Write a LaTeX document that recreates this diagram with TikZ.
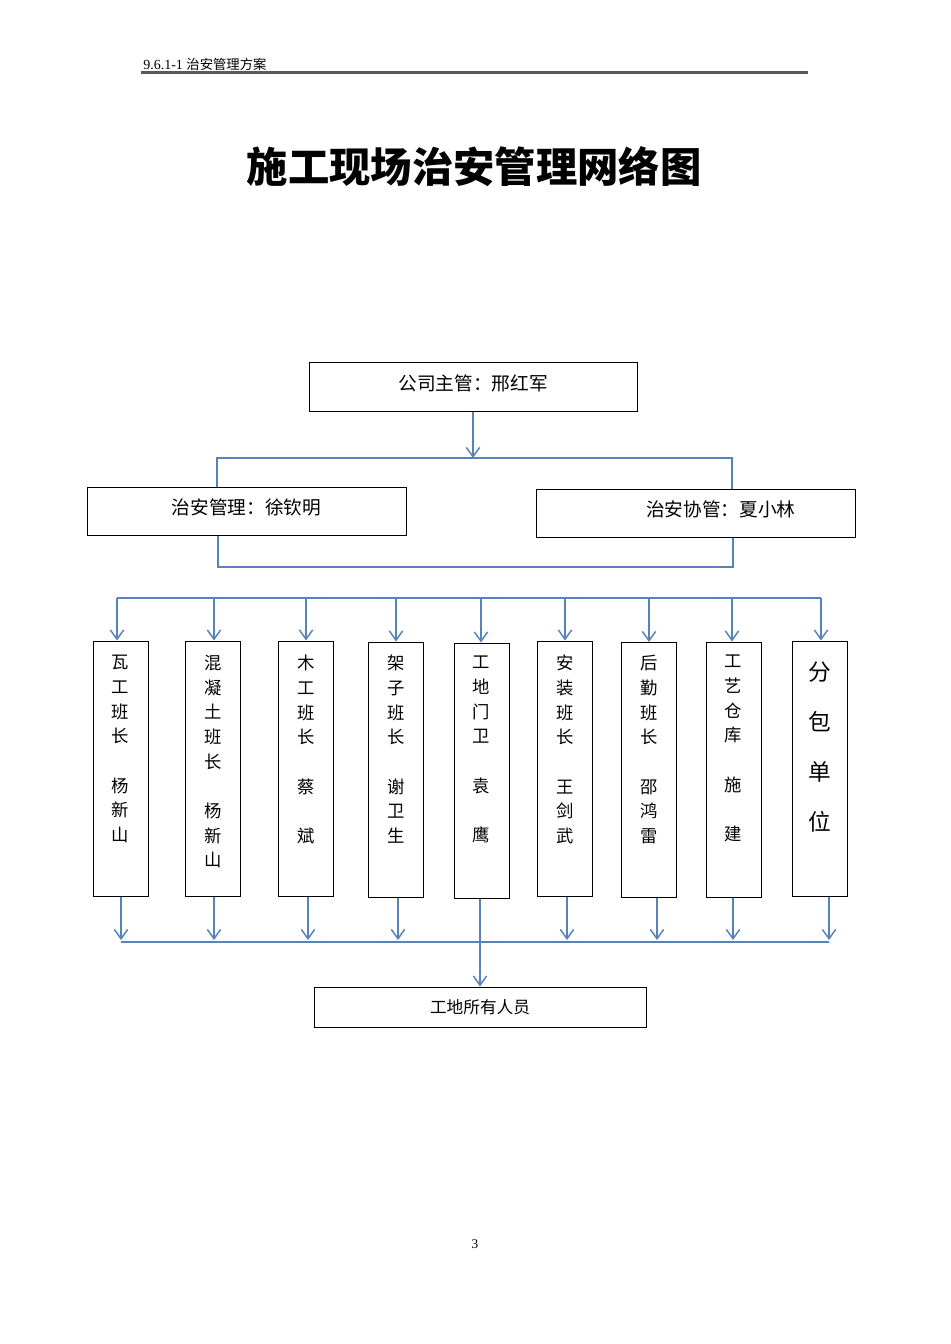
\documentclass[tikz,border=0pt]{standalone}
\usepackage{fontspec}
\setmainfont{Liberation Serif}
\newfontfamily\cjk{Noto Sans CJK SC}
\usetikzlibrary{arrows.meta,calc}
\definecolor{lineblue}{RGB}{88,130,186}
\begin{document}
\begin{tikzpicture}[x=0.75pt,y=-0.75pt,
  ln/.style={draw=lineblue,line width=1.1pt},
  arr/.style={ln,-{Straight Barb[length=7pt,width=10pt,line width=1.1pt]}},
  box/.style={draw=black,line width=0.75pt,inner sep=0pt},
  colbox/.style={box,minimum width=41.25pt,minimum height=191.25pt},
  coltxt/.style={anchor=north,inner sep=0pt,align=center,font=\cjk\fontsize{13}{18.5}\selectfont},
  bigtxt/.style={anchor=north,inner sep=0pt,align=center,font=\cjk\fontsize{17}{37.3}\selectfont},
]
\useasboundingbox (0,0) rectangle (950,1344);
\fill[white] (0,0) rectangle (950,1344);
% header
\node[anchor=base west,inner sep=0pt,font=\fontsize{10.5}{11}\selectfont] (hd) at (143,70) {9.6.1-1 {\cjk\fontsize{10}{11}\selectfont 治安管理方案}};
\draw[draw=black!65,line width=1.6pt] (141,72.5) -- (808,72.5);
% title
\node[inner sep=0pt,font=\cjk\bfseries\fontsize{31}{31}\selectfont] (title) at (474,167) {施工现场治安管理网络图};
% top boxes
\node[box,minimum width=246pt,minimum height=36.75pt,font=\cjk\fontsize{14}{14}\selectfont] (T) at (473,386.5) {\raisebox{6.5pt}{公司主管：邢红军}};
\node[box,minimum width=239.25pt,minimum height=36pt,font=\cjk\fontsize{14}{14}\selectfont] (L) at (246.5,511) {\raisebox{6.5pt}{治安管理：徐钦明}};
\node[box,minimum width=239.25pt,minimum height=36pt,font=\cjk\fontsize{14}{14}\selectfont] (R) at (695.5,513) {\raisebox{6.5pt}{\hspace*{38pt}治安协管：夏小林}};
% connectors top
\coordinate (j0) at (473,458);
\coordinate (a1) at (217,458);
\coordinate (a2) at (732,458);
\draw[arr] (T.south) -- (j0);
\draw[ln] (L.north -| a1) -- (a1) -- (a2) -- (R.north -| a2);
\coordinate (b1) at (218,567);
\coordinate (b2) at (733,567);
\draw[draw=lineblue,line width=1.9pt] (L.south -| b1) -- (b1) -- (b2) -- (R.south -| b2);
% column boxes
\node[colbox] (c1) at (120.5,768.5) {};
\node[colbox] (c2) at (213,768.5) {};
\node[colbox] (c3) at (306,768.5) {};
\node[colbox] (c4) at (396,769.5) {};
\node[colbox] (c5) at (481.5,770.5) {};
\node[colbox] (c6) at (564.5,768.5) {};
\node[colbox] (c7) at (648.5,770) {};
\node[colbox] (c8) at (733.5,769.5) {};
\node[colbox] (c9) at (820,768.5) {};
% column texts
\node[coltxt] (t1) at (120.5,655) {瓦\\工\\班\\长\\\mbox{}\\杨\\新\\山};
\node[coltxt] (t2) at (213,655) {混\\凝\\土\\班\\长\\\mbox{}\\杨\\新\\山};
\node[coltxt] (t3) at (306,655) {木\\工\\班\\长\\\mbox{}\\蔡\\\mbox{}\\斌};
\node[coltxt] (t4) at (396,655) {架\\子\\班\\长\\\mbox{}\\谢\\卫\\生};
\node[coltxt] (t5) at (481.5,656) {工\\地\\门\\卫\\\mbox{}\\袁\\\mbox{}\\鹰};
\node[coltxt] (t6) at (565,655) {安\\装\\班\\长\\\mbox{}\\王\\剑\\武};
\node[coltxt] (t7) at (649,655) {后\\勤\\班\\长\\\mbox{}\\邵\\鸿\\雷};
\node[coltxt] (t8) at (733.5,655) {工\\艺\\仓\\库\\\mbox{}\\施\\\mbox{}\\建};
\node[bigtxt] (t9) at (820,662) {分\\包\\单\\位};
% distribution line
\coordinate (d1) at (117,598);
\coordinate (d2) at (214,598);
\coordinate (d3) at (306,598);
\coordinate (d4) at (396,598);
\coordinate (d5) at (481,598);
\coordinate (d6) at (565,598);
\coordinate (d7) at (649,598);
\coordinate (d8) at (732,598);
\coordinate (d9) at (821,598);
\draw[ln] (d1) -- (d9);
\draw[arr] (d1) -- (c1.north -| d1);
\draw[arr] (d2) -- (c2.north -| d2);
\draw[arr] (d3) -- (c3.north -| d3);
\draw[arr] (d4) -- (c4.north -| d4);
\draw[arr] (d5) -- (c5.north -| d5);
\draw[arr] (d6) -- (c6.north -| d6);
\draw[arr] (d7) -- (c7.north -| d7);
\draw[arr] (d8) -- (c8.north -| d8);
\draw[arr] (d9) -- (c9.north -| d9);
% collecting line
\coordinate (e1) at (121,940);
\coordinate (e2) at (214,940);
\coordinate (e3) at (308,940);
\coordinate (e4) at (398,940);
\coordinate (e5) at (480,940);
\coordinate (e6) at (567,940);
\coordinate (e7) at (657,940);
\coordinate (e8) at (733,940);
\coordinate (e9) at (829,940);
\draw[draw=lineblue,line width=1.5pt] ([yshift=-1.2pt]e1) -- ([yshift=-1.2pt]e9);
\draw[arr] (c1.south -| e1) -- (e1);
\draw[arr] (c2.south -| e2) -- (e2);
\draw[arr] (c3.south -| e3) -- (e3);
\draw[arr] (c4.south -| e4) -- (e4);
\draw[arr] (c6.south -| e6) -- (e6);
\draw[arr] (c7.south -| e7) -- (e7);
\draw[arr] (c8.south -| e8) -- (e8);
\draw[arr] (c9.south -| e9) -- (e9);
% bottom box
\node[box,minimum width=249pt,minimum height=30pt,font=\cjk\fontsize{12.5}{13}\selectfont] (B) at (480,1007) {工地所有人员};
\draw[arr] (c5.south -| e5) -- (B.north -| e5);
% page number
\node[inner sep=0pt,font=\fontsize{10}{10}\selectfont] (pg) at (475,1244) {3};
\end{tikzpicture}
\end{document}
